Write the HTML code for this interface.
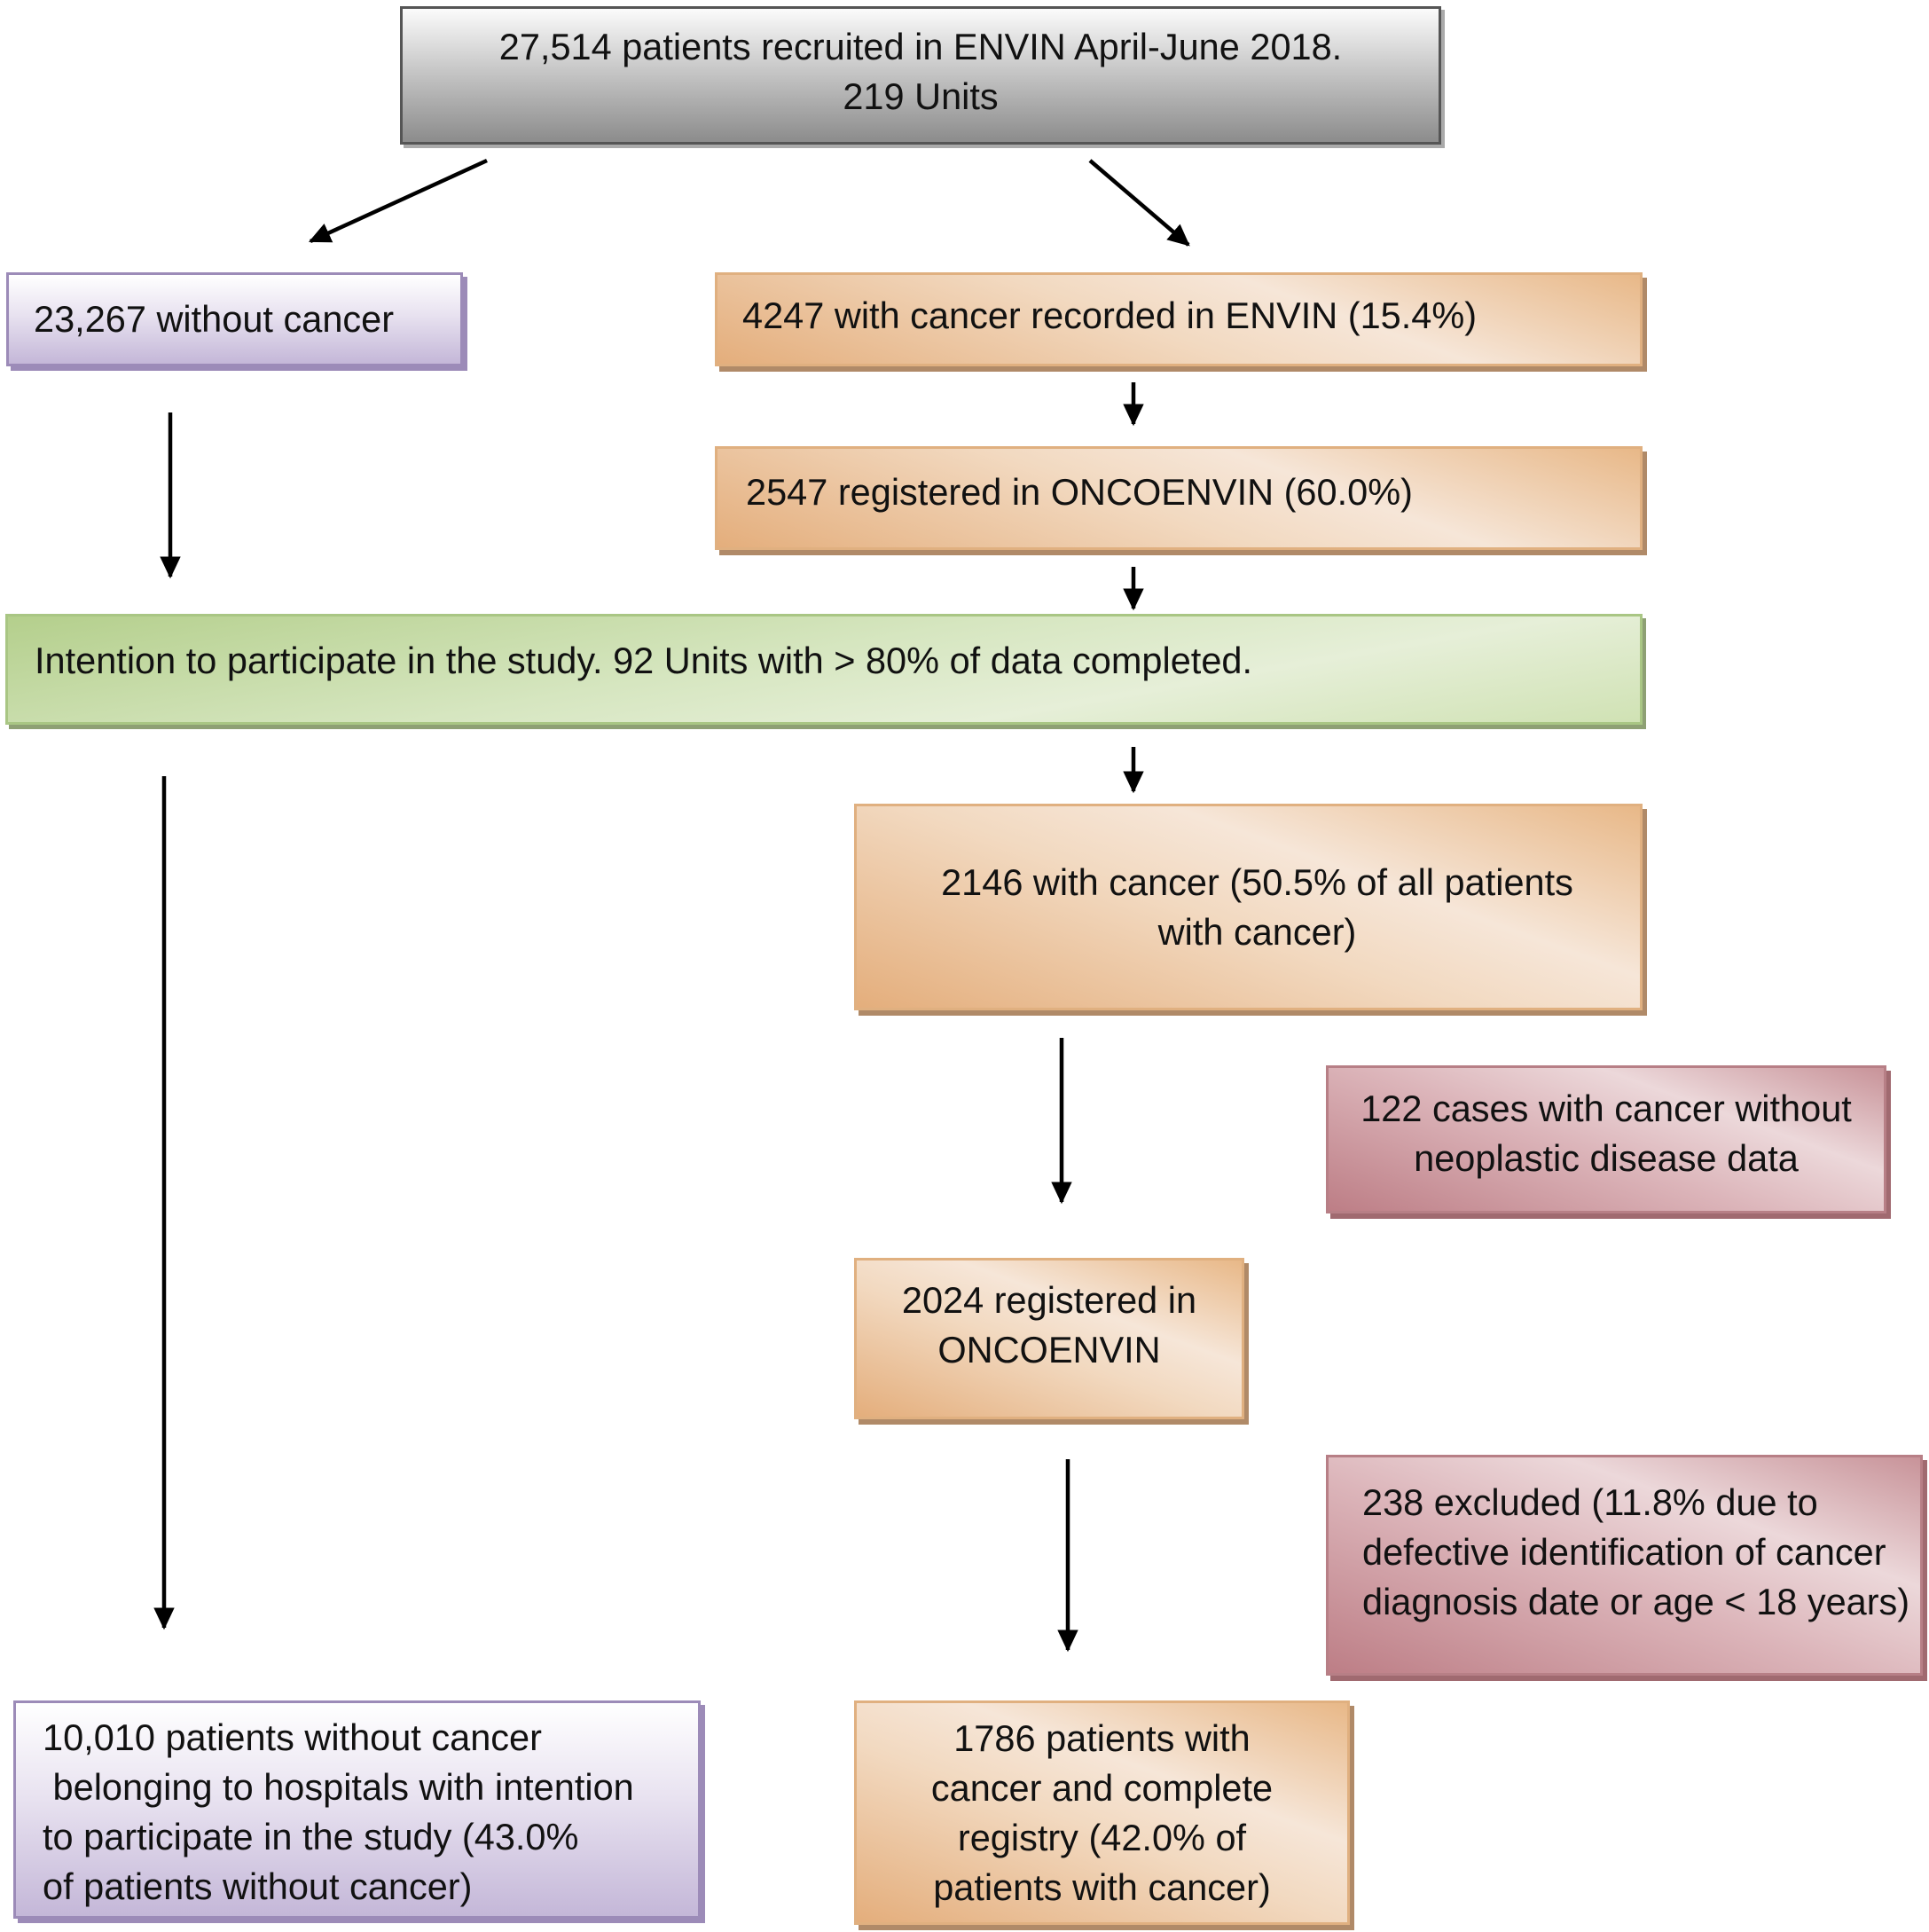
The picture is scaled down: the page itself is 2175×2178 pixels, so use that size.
<!DOCTYPE html>
<html><head><meta charset="utf-8"><style>
body{margin:0;width:2175px;height:2178px;background:#fff;position:relative;overflow:hidden;font-family:"Liberation Sans",sans-serif;color:#111}
.b{position:absolute;box-sizing:border-box;font-size:41.5px;line-height:56px;display:flex;align-items:center;white-space:nowrap}
.o{background:linear-gradient(20deg,#e4ae7c 0%,#f2d9c0 45%,#f6e6d8 65%,#e8b888 100%);border:3px solid #e0b080;box-shadow:5px 6px 0 #b08a68}
.p{background:linear-gradient(0deg,#c4b7d8 0%,#e8e2f0 55%,#fff 100%);border:3px solid #9c8bb8;box-shadow:5px 5px 0 #9c8bb8}
.r{background:linear-gradient(20deg,#bd7e86 0%,#dcb5ba 45%,#ecd8da 70%,#c89399 100%);border:3px solid #b77f86;box-shadow:5px 6px 0 #a06a70}
.g{background:linear-gradient(170deg,#b4cf8c 0%,#d6e6c0 45%,#e6efd8 70%,#d0e2b4 100%);border:3px solid #a9c684;box-shadow:4px 5px 0 #8ea074}
.gr{background:linear-gradient(180deg,#fbfbfb 0%,#c8c8c8 45%,#8c8c8c 100%);border:3px solid #555;box-shadow:4px 4px 0 #aaa}
.c{justify-content:center;text-align:center}
</style></head><body>
<div class="b gr c" style="left:451px;top:7px;width:1174px;height:156px;padding-bottom:8px">27,514 patients recruited in ENVIN April-June 2018.<br>219 Units</div>
<div class="b p" style="left:7px;top:307px;width:515px;height:106px;padding-left:28px">23,267 without cancer</div>
<div class="b o" style="left:806px;top:307px;width:1046px;height:106px;padding-left:28px;padding-bottom:8px">4247 with cancer recorded in ENVIN (15.4%)</div>
<div class="b o" style="left:806px;top:503px;width:1046px;height:117px;padding-left:32px;padding-bottom:14px">2547 registered in ONCOENVIN (60.0%)</div>
<div class="b g" style="left:6px;top:692px;width:1846px;height:125px;padding-left:30px;padding-bottom:20px">Intention to participate in the study. 92 Units with &gt; 80% of data completed.</div>
<div class="b o c" style="left:963px;top:906px;width:889px;height:233px;padding-left:20px">2146 with cancer (50.5% of all patients<br>with cancer)</div>
<div class="b r c" style="left:1495px;top:1201px;width:632px;height:167px;padding-bottom:14px">122 cases with cancer without<br>neoplastic disease data</div>
<div class="b o c" style="left:963px;top:1418px;width:440px;height:182px;padding-bottom:30px">2024 registered in<br>ONCOENVIN</div>
<div class="b r" style="left:1495px;top:1640px;width:673px;height:249px;padding-left:38px;padding-bottom:30px">238 excluded (11.8% due to<br>defective identification of cancer<br>diagnosis date or age &lt; 18 years)</div>
<div class="b p" style="left:15px;top:1917px;width:775px;height:246px;padding-left:30px;padding-top:6px">10,010 patients without cancer<br>&nbsp;belonging to hospitals with intention<br>to participate in the study (43.0%<br>of patients without cancer)</div>
<div class="b o c" style="left:963px;top:1917px;width:559px;height:253px">1786 patients with<br>cancer and complete<br>registry (42.0% of<br>patients with cancer)</div>
<svg width="2175" height="2178" style="position:absolute;left:0;top:0" >
<defs><marker id="a" markerWidth="6" markerHeight="6" refX="5" refY="3" orient="auto" markerUnits="strokeWidth"><path d="M0,0.4 L5.5,3 L0,5.6 Z" fill="#000"/></marker></defs>
<g stroke="#000" stroke-width="4.5" marker-end="url(#a)">
<line x1="549" y1="181" x2="350" y2="272"/>
<line x1="1229" y1="181" x2="1340" y2="276"/>
<line x1="1278" y1="431" x2="1278" y2="478"/>
<line x1="192" y1="465" x2="192" y2="650"/>
<line x1="1278" y1="639" x2="1278" y2="686"/>
<line x1="1278" y1="842" x2="1278" y2="892"/>
<line x1="185" y1="875" x2="185" y2="1835"/>
<line x1="1197" y1="1170" x2="1197" y2="1355"/>
<line x1="1204" y1="1645" x2="1204" y2="1860"/>
</g></svg>
</body></html>
